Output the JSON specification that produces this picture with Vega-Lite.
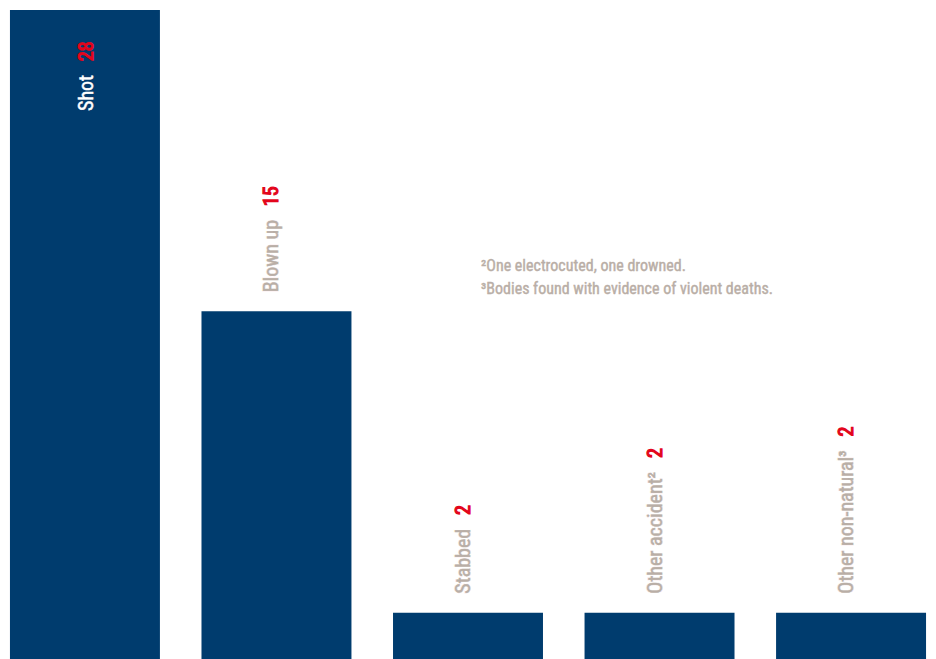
{
  "$schema": "https://vega.github.io/schema/vega-lite/v6.json",
  "width": 936,
  "height": 659,
  "autosize": {"type": "fit", "contains": "padding"},
  "padding": 0,
  "background": "white",
  "config": {"view": {"stroke": null}},
  "datasets": {
    "deaths": [
      {"label": "Shot", "value": 28},
      {"label": "Blown up", "value": 15},
      {"label": "Stabbed", "value": 2},
      {"label": "Other accident²", "value": 2},
      {"label": "Other non-natural³", "value": 2}
    ],
    "notes": [
      {"label": "Stabbed", "note": ["²One electrocuted, one drowned.", "³Bodies found with evidence of violent deaths."]}
    ]
  },
  "layer": [
    {
      "data": {"name": "deaths"},
      "mark": {"type": "bar", "color": "#003c6e"},
      "encoding": {
        "x": {"field": "label", "type": "nominal", "sort": null,
              "scale": {"domain": ["Shot", "Blown up", "Stabbed", "Other accident²", "Other non-natural³"],
                        "paddingInner": 0.217, "paddingOuter": 0.052}, "axis": null},
        "y": {"field": "value", "type": "quantitative",
              "scale": {"domain": [0, 28.43], "nice": false, "zero": true}, "axis": null}
      }
    },
    {
      "data": {"name": "deaths"},
      "transform": [
        {"filter": "datum.label != 'Shot'"},
        {"calculate": "datum.label + ' \u00a0\u00a0' + datum.value", "as": "full"}
      ],
      "mark": {"type": "text", "angle": 270, "align": "left", "baseline": "middle", "dx": 19, "dy": -4,
               "font": "Roboto Condensed", "fontSize": 20,
               "fill": "#e3051b", "stroke": "#e3051b", "strokeWidth": 1.2},
      "encoding": {
        "x": {"field": "label", "type": "nominal", "sort": null},
        "y": {"field": "value", "type": "quantitative"},
        "text": {"field": "full"}
      }
    },
    {
      "data": {"name": "deaths"},
      "transform": [{"filter": "datum.label != 'Shot'"}],
      "mark": {"type": "text", "angle": 270, "align": "left", "baseline": "middle", "dx": 19, "dy": -4,
               "font": "Roboto Condensed", "fontSize": 20,
               "fill": "#b9aea6", "stroke": "white", "strokeWidth": 2.2},
      "encoding": {
        "x": {"field": "label", "type": "nominal", "sort": null},
        "y": {"field": "value", "type": "quantitative"},
        "text": {"field": "label"}
      }
    },
    {
      "data": {"name": "deaths"},
      "transform": [{"filter": "datum.label != 'Shot'"}],
      "mark": {"type": "text", "angle": 270, "align": "left", "baseline": "middle", "dx": 19, "dy": -4,
               "font": "Roboto Condensed", "fontSize": 20, "fill": "#b9aea6",
               "stroke": "#b9aea6", "strokeWidth": 0.5},
      "encoding": {
        "x": {"field": "label", "type": "nominal", "sort": null},
        "y": {"field": "value", "type": "quantitative"},
        "text": {"field": "label"}
      }
    },
    {
      "data": {"name": "deaths"},
      "transform": [
        {"filter": "datum.label == 'Shot'"},
        {"calculate": "datum.label + ' \u00a0\u00a0' + datum.value", "as": "full"}
      ],
      "mark": {"type": "text", "angle": 270, "align": "left", "baseline": "middle", "dx": -101, "dy": 2,
               "font": "Roboto Condensed", "fontSize": 20,
               "fill": "#e3051b", "stroke": "#e3051b", "strokeWidth": 1.2},
      "encoding": {
        "x": {"field": "label", "type": "nominal", "sort": null},
        "y": {"field": "value", "type": "quantitative"},
        "text": {"field": "full"}
      }
    },
    {
      "data": {"name": "deaths"},
      "transform": [{"filter": "datum.label == 'Shot'"}],
      "mark": {"type": "text", "angle": 270, "align": "left", "baseline": "middle", "dx": -101, "dy": 2,
               "font": "Roboto Condensed", "fontSize": 20,
               "fill": "white", "stroke": "#003c6e", "strokeWidth": 2.2},
      "encoding": {
        "x": {"field": "label", "type": "nominal", "sort": null},
        "y": {"field": "value", "type": "quantitative"},
        "text": {"field": "label"}
      }
    },
    {
      "data": {"name": "deaths"},
      "transform": [{"filter": "datum.label == 'Shot'"}],
      "mark": {"type": "text", "angle": 270, "align": "left", "baseline": "middle", "dx": -101, "dy": 2,
               "font": "Roboto Condensed", "fontSize": 20, "fill": "white",
               "stroke": "white", "strokeWidth": 0.5},
      "encoding": {
        "x": {"field": "label", "type": "nominal", "sort": null},
        "y": {"field": "value", "type": "quantitative"},
        "text": {"field": "label"}
      }
    },
    {
      "data": {"name": "notes"},
      "mark": {"type": "text", "align": "left", "baseline": "alphabetic", "dx": 13, "lineHeight": 23,
               "font": "Roboto Condensed", "fontSize": 16, "fill": "#b9aea6",
               "stroke": "#b9aea6", "strokeWidth": 0.4},
      "encoding": {
        "x": {"field": "label", "type": "nominal", "sort": null},
        "y": {"datum": 16.74, "type": "quantitative"},
        "text": {"field": "note"}
      }
    }
  ]
}
